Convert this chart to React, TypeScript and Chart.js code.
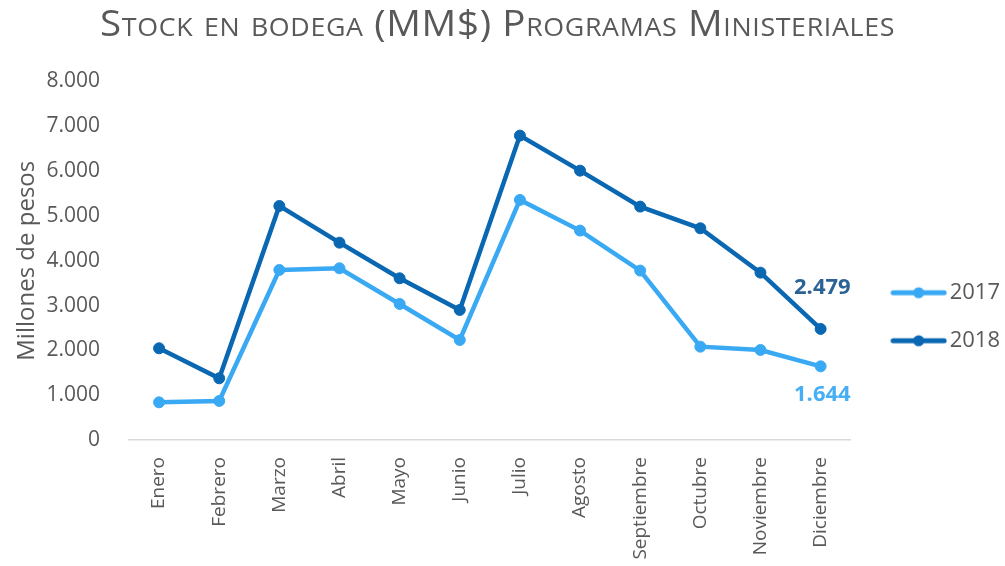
import React, { useEffect, useRef } from "react";
import { Chart, registerables } from "chart.js";

Chart.register(...registerables);

const months = [
  "Enero", "Febrero", "Marzo", "Abril", "Mayo", "Junio",
  "Julio", "Agosto", "Septiembre", "Octubre", "Noviembre", "Diciembre",
];
const stock2017 = [841, 871, 3795, 3832, 3036, 2232, 5357, 4673, 3780, 2083, 2009, 1644];
const stock2018 = [2047, 1377, 5223, 4404, 3609, 2902, 6793, 6011, 5208, 4725, 3735, 2479];
const seriesNames = ["2017", "2018"];
const seriesColors = ["#3AA9F4", "#0A67B2"];
const endLabelColors = ["#45AEF5", "#2B6396"];
const yMin = 0;
const yMax = 8000;
const yStep = 1000;
const chartTitle = "Stock en bodega (MM$) Programas Ministeriales";
const yTitle = "Millones de pesos";

const FONT = "'Open Sans', 'Noto Sans', sans-serif";
const GREY = "#595959";

const fmt = (n: number) => Math.round(n).toString().replace(/\B(?=(\d{3})+(?!\d))/g, ".");

function makeSwatch(color: string) {
  const c = document.createElement("canvas");
  c.width = 57;
  c.height = 14;
  const g = c.getContext("2d")!;
  g.strokeStyle = color;
  g.lineWidth = 5;
  g.lineCap = "round";
  g.beginPath();
  g.moveTo(3, 7);
  g.lineTo(54, 7);
  g.stroke();
  g.fillStyle = color;
  g.beginPath();
  g.arc(28.5, 7, 5.5, 0, Math.PI * 2);
  g.fill();
  return c;
}

const endLabelOffsets = [28, -41];

const endLabels = {
  id: "endLabels",
  afterDatasetsDraw(chart: any) {
    const ctx = chart.ctx;
    chart.data.datasets.forEach((ds: any, i: number) => {
      const meta = chart.getDatasetMeta(i);
      const pt = meta.data[meta.data.length - 1];
      const v = ds.data[ds.data.length - 1];
      ctx.save();
      ctx.font = `bold 22px ${FONT}`;
      ctx.fillStyle = endLabelColors[i];
      ctx.textAlign = "right";
      ctx.textBaseline = "middle";
      ctx.fillText(fmt(v), pt.x + 30, pt.y + endLabelOffsets[i]);
      ctx.restore();
    });
  },
};

// Title drawn in small caps, slightly widened to match the reference's wide title face
const smallCapsTitle = {
  id: "smallCapsTitle",
  afterDraw(chart: any) {
    const ctx = chart.ctx;
    ctx.save();
    ctx.font = `small-caps 36px ${FONT}`;
    (ctx as any).letterSpacing = "0.6px";
    const targetLeft = 100;
    const targetWidth = 795;
    const w = ctx.measureText(chartTitle).width;
    const sx = targetWidth / w;
    ctx.fillStyle = GREY;
    ctx.textAlign = "left";
    ctx.textBaseline = "alphabetic";
    ctx.translate(targetLeft, 36);
    ctx.scale(sx, 1);
    ctx.fillText(chartTitle, 0, 0);
    ctx.restore();
  },
};

export default function App() {
  const ref = useRef<HTMLCanvasElement | null>(null);

  useEffect(() => {
    if (!ref.current) return;
    const swatches = seriesColors.map(makeSwatch);
    const seriesData = [stock2017, stock2018];
    const chart = new Chart(ref.current, {
      type: "line",
      data: {
        labels: months,
        datasets: seriesNames.map((name, i) => ({
          label: name,
          data: seriesData[i],
          borderColor: seriesColors[i],
          backgroundColor: seriesColors[i],
          pointBackgroundColor: seriesColors[i],
          pointBorderColor: seriesColors[i],
          borderWidth: 4.5,
          pointRadius: 5.5,
          pointBorderWidth: 1,
          tension: 0,
          yAxisID: "y",
        })),
      },
      options: {
        responsive: false,
        animation: false,
        devicePixelRatio: 1,
        layout: { padding: { left: 0, right: -5, top: 81.5, bottom: 0 } },
        scales: {
          x: {
            offset: true,
            grid: { display: false, drawTicks: false },
            border: { display: true, color: "#D9D9D9", width: 1.5 },
            ticks: {
              color: GREY,
              font: { family: FONT, size: 19 },
              minRotation: 90,
              maxRotation: 90,
              padding: 17,
              autoSkip: false,
            },
            afterFit: (s: any) => {
              s.height = 126;
            },
          },
          y: {
            min: yMin,
            max: yMax,
            grid: { display: false, drawTicks: false },
            border: { display: false },
            ticks: {
              stepSize: yStep,
              color: GREY,
              font: { family: FONT, size: 21 },
              padding: 29,
              callback: (v: any) => fmt(Number(v)),
            },
            title: {
              display: true,
              text: yTitle,
              color: GREY,
              font: { family: FONT, size: 24 },
              padding: { top: 13, bottom: 0 },
            },
            afterFit: (s: any) => {
              s.width = 129;
            },
          },
          yR: {
            type: "linear",
            position: "right",
            display: true,
            grid: { display: false, drawTicks: false },
            border: { display: false },
            ticks: { display: false },
            afterFit: (s: any) => {
              s.width = 22;
            },
          },
        },
        plugins: {
          title: { display: false },
          legend: {
            display: true,
            position: "right",
            align: "start",
            title: {
              display: true,
              text: " ",
              font: { size: 12 },
              padding: { top: 0, bottom: 159.8 },
            },
            labels: {
              usePointStyle: true,
              pointStyleWidth: 40,
              padding: 26,
              color: GREY,
              font: { family: FONT, size: 22 },
              generateLabels: (c: any) => {
                const items = (Chart.defaults.plugins.legend.labels as any).generateLabels(c);
                return items.map((it: any, i: number) => ({
                  ...it,
                  pointStyle: swatches[i],
                  fontColor: GREY,
                }));
              },
            },
          },
          tooltip: { enabled: false },
        },
      },
      plugins: [endLabels, smallCapsTitle],
    } as any);
    return () => chart.destroy();
  }, []);

  return (
    <div style={{ position: "absolute", left: 0, top: 0, width: 1005, height: 566, background: "#fff" }}>
      <canvas ref={ref} width={1005} height={566} style={{ display: "block" }} />
    </div>
  );
}
